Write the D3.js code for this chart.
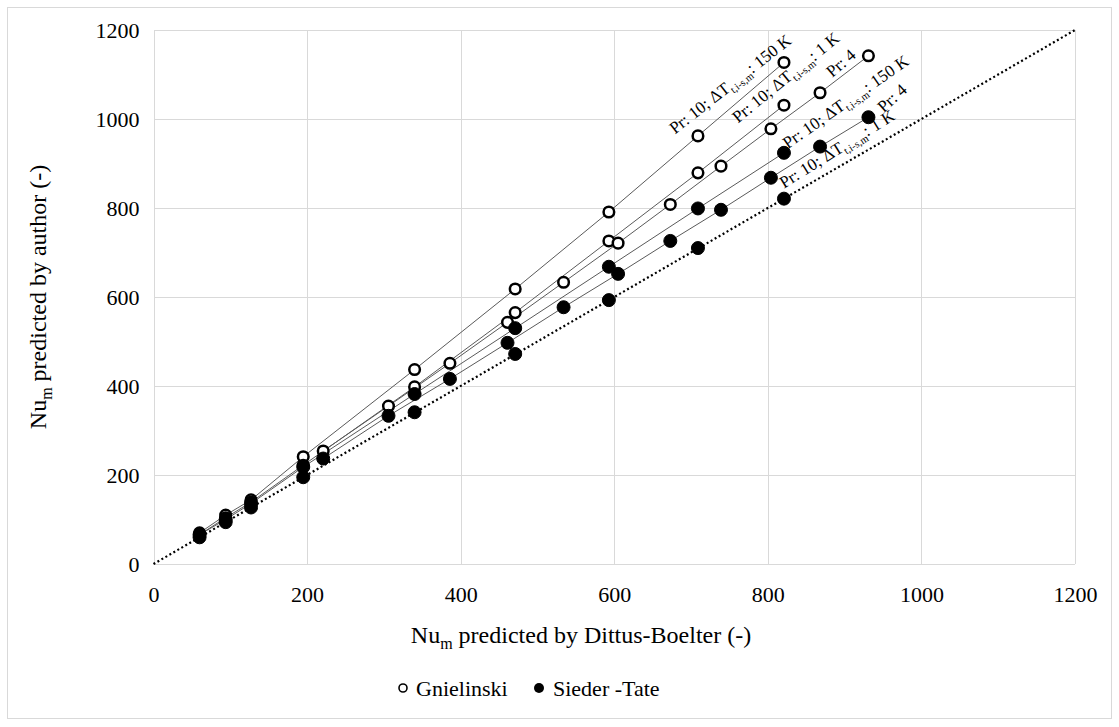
<!DOCTYPE html>
<html lang="en">
<head>
<meta charset="utf-8">
<title>Nu comparison</title>
<script src="https://cdn.jsdelivr.net/npm/d3@7"></script>
<style>
body { margin: 0; background: #fff; }
svg text { font-family: "Liberation Serif", "Times New Roman", serif !important; fill: #000; }
.grid line { stroke: #d9d9d9; stroke-width: 1; shape-rendering: crispEdges; }
.grid path { display: none; }
.fit { fill: none; stroke: #5a5a5a; stroke-width: 1; }
</style>
</head>
<body>
<svg width="1119" height="727" font-family="Liberation Serif"></svg>
<script>

// x values (Dittus-Boelter) for the two Prandtl numbers
var xPr10 = [60, 94, 127, 195, 340, 471, 593, 709, 821];
var xPr4  = [221, 306, 386, 461, 534, 605, 673, 739, 804, 868, 931];

// y values (author)
var gnPr10Hot  = [70, 110, 144, 241, 437, 618, 791, 962, 1127];
var gnPr10Cold = [66, 104, 139, 222, 398, 565, 726, 879, 1031];
var gnPr4      = [254, 355, 451, 543, 633, 721, 808, 894, 978, 1059, 1142];
var stPr10Hot  = [66, 100, 136, 218, 382, 530, 668, 799, 924];
var stPr4      = [237, 333, 416, 497, 577, 652, 726, 796, 868, 938, 1004];
var stPr10Cold = [60, 94, 127, 195, 341, 472, 593, 710, 821];

var ticks = [0, 200, 400, 600, 800, 1000, 1200];

var series = [
  {name: "gnPr10Hot",  x: xPr10, y: gnPr10Hot,  open: true,  line: true},
  {name: "gnPr10Cold", x: xPr10, y: gnPr10Cold, open: true,  line: true},
  {name: "gnPr4",      x: xPr4,  y: gnPr4,      open: true,  line: true},
  {name: "stPr10Hot",  x: xPr10, y: stPr10Hot,  open: false, line: true},
  {name: "stPr4",      x: xPr4,  y: stPr4,      open: false, line: true},
  {name: "stPr10Cold", x: xPr10, y: stPr10Cold, open: false, line: false}
];

// annotation text and where it sits (data units)
var labels = [
  {pre: "Pr: 10; \u0394T", sub: "t,i-s,m", post: ": 150 K", at: [679, 965], angle: -38},
  {pre: "Pr: 10; \u0394T", sub: "t,i-s,m", post: ": 1 K",   at: [761, 990], angle: -39},
  {pre: "Pr: 4",          sub: "",        post: "",        at: [884, 1092], angle: -41},
  {pre: "Pr: 10; \u0394T", sub: "t,i-s,m", post: ": 150 K", at: [826, 932], angle: -35},
  {pre: "Pr: 4",          sub: "",        post: "",        at: [951, 1013], angle: -42},
  {pre: "Pr: 10; \u0394T", sub: "t,i-s,m", post: ": 1 K",   at: [821, 843], angle: -32}
];

var serif = "'Liberation Serif', 'Times New Roman', serif";

var svg = d3.select("svg"),
    margin = {top: 30, right: 44, bottom: 163, left: 153.5},
    width = 1119 - margin.left - margin.right,
    height = 727 - margin.top - margin.bottom;

svg.append("rect")
    .attr("x", 7.5).attr("y", 7.5)
    .attr("width", 1104).attr("height", 711)
    .attr("fill", "#fff").attr("stroke", "#d9d9d9");

var x = d3.scaleLinear().domain([0, 1200]).range([0, width]);
var y = d3.scaleLinear().domain([0, 1200]).range([height, 0]);

var g = svg.append("g")
    .attr("transform", "translate(" + margin.left + "," + margin.top + ")");

// gridlines
g.append("g").attr("class", "grid")
    .attr("transform", "translate(0," + height + ")")
    .call(d3.axisBottom(x).tickValues(ticks).tickSize(-height).tickFormat(""));
g.append("g").attr("class", "grid")
    .call(d3.axisLeft(y).tickValues(ticks).tickSize(-width).tickFormat(""));

// tick labels
g.append("g")
    .attr("transform", "translate(0," + height + ")")
    .call(d3.axisBottom(x).tickValues(ticks).tickFormat(d3.format("d")).tickSize(0).tickPadding(22))
    .call(function(a) { a.select(".domain").remove(); a.attr("font-family", serif).attr("font-size", 22); })
    .selectAll("text").style("font-family", serif).attr("font-size", 22);
g.append("g")
    .call(d3.axisLeft(y).tickValues(ticks).tickFormat(d3.format("d")).tickSize(0).tickPadding(14))
    .call(function(a) { a.select(".domain").remove(); a.attr("font-family", serif).attr("font-size", 22); })
    .selectAll("text").style("font-family", serif).attr("font-size", 22);

// 1:1 line
g.append("line")
    .attr("x1", x(0)).attr("y1", y(0))
    .attr("x2", x(1200)).attr("y2", y(1200))
    .attr("stroke", "#000").attr("stroke-width", 2.2)
    .attr("stroke-dasharray", "2,2.6");

var line = d3.line()
    .x(function(d) { return x(d[0]); })
    .y(function(d) { return y(d[1]); });

series.forEach(function(s) {
  if (!s.line) return;
  g.append("path").attr("class", "fit")
      .attr("d", line(d3.zip(s.x, s.y)));
});

series.forEach(function(s) {
  g.append("g").selectAll("circle")
      .data(d3.zip(s.x, s.y))
    .enter().append("circle")
      .attr("cx", function(d) { return x(d[0]); })
      .attr("cy", function(d) { return y(d[1]); })
      .attr("r", s.open ? 5.3 : 6.5)
      .attr("fill", s.open ? "#fff" : "#000")
      .attr("stroke", "#000")
      .attr("stroke-width", s.open ? 2.5 : 1);
});

// annotations
labels.forEach(function(l) {
  var t = g.append("text")
      .style("font-family", serif)
      .attr("font-size", 17)
      .attr("transform", "translate(" + x(l.at[0]) + "," + y(l.at[1]) + ") rotate(" + l.angle + ")");
  t.append("tspan").text(l.pre);
  if (l.sub) {
    t.append("tspan").attr("dy", 4).attr("font-size", 10.5).text(l.sub);
    t.append("tspan").attr("dy", -4).text(l.post);
  }
});

// axis titles
var xt = svg.append("text")
    .style("font-family", serif)
    .attr("x", 581).attr("y", 643)
    .attr("text-anchor", "middle")
    .attr("font-size", 24);
xt.append("tspan").text("Nu");
xt.append("tspan").attr("dy", 6).attr("font-size", 16).text("m");
xt.append("tspan").attr("dy", -6).text(" predicted by Dittus-Boelter (-)");

var yt = svg.append("text")
    .style("font-family", serif)
    .attr("transform", "translate(46," + (margin.top + height / 2) + ") rotate(-90)")
    .attr("text-anchor", "middle")
    .attr("font-size", 24);
yt.append("tspan").text("Nu");
yt.append("tspan").attr("dy", 6).attr("font-size", 16).text("m");
yt.append("tspan").attr("dy", -6).text(" predicted by author (-)");

// legend
var legend = svg.append("g").attr("transform", "translate(403,688)");
legend.append("circle").attr("cx", 0).attr("cy", 0).attr("r", 4)
    .attr("fill", "#fff").attr("stroke", "#000").attr("stroke-width", 1.6);
legend.append("text").style("font-family", serif)
    .attr("x", 13).attr("y", 7.5).attr("font-size", 22).text("Gnielinski");
legend.append("circle").attr("cx", 136).attr("cy", 0).attr("r", 5).attr("fill", "#000");
legend.append("text").style("font-family", serif)
    .attr("x", 150).attr("y", 7.5).attr("font-size", 22).text("Sieder -Tate");

</script>
</body>
</html>
